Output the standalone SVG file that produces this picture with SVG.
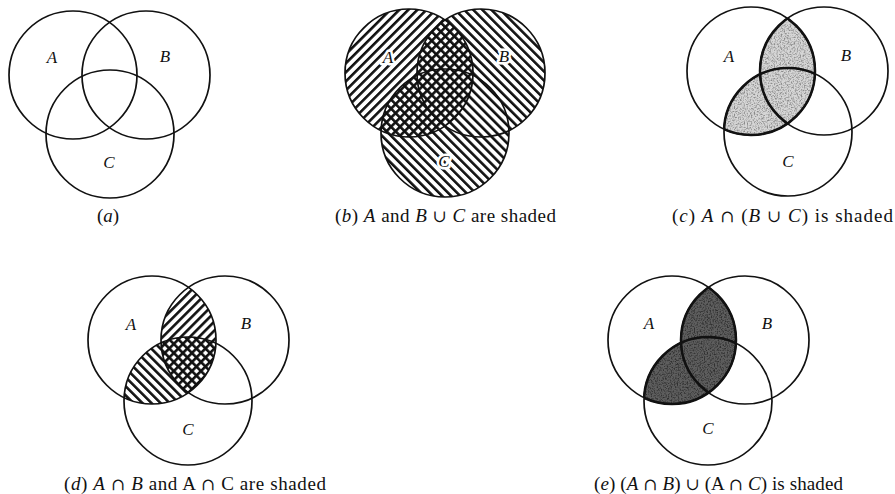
<svg xmlns="http://www.w3.org/2000/svg" width="895" height="494" viewBox="0 0 895 494">
<style>
.c{fill:none;stroke:#111;stroke-width:1.7}
.thick{fill:none;stroke:#111;stroke-width:2.5}
.lbl{font-family:"Liberation Serif",serif;font-style:italic;font-size:17px;fill:#111}
.halo{paint-order:stroke;stroke:#fff;stroke-width:5px;stroke-linejoin:round}
.cap{font-family:"Liberation Serif","DejaVu Serif",serif;font-size:19px;fill:#111}
.i{font-style:italic}
.s{font-family:"DejaVu Serif",serif;font-size:17px}
</style>
<defs>
<pattern id="hF" width="6.4" height="6.4" patternUnits="userSpaceOnUse" patternTransform="rotate(45)"><rect width="2.6" height="6.4" fill="#111"/></pattern>
<pattern id="hB" width="6.4" height="6.4" patternUnits="userSpaceOnUse" patternTransform="rotate(-45)"><rect width="2.6" height="6.4" fill="#111"/></pattern>
<filter id="grain" x="0" y="0" width="1" height="1">
<feTurbulence type="fractalNoise" baseFrequency="0.7" numOctaves="2" seed="4" result="n"/>
<feColorMatrix in="n" type="matrix" values="0 0 0 0 0  0 0 0 0 0  0 0 0 0 0  3 0 0 0 -1.3"/>
</filter>
<clipPath id="bA"><circle cx="409" cy="73" r="64"/></clipPath>
<clipPath id="bBC"><circle cx="481" cy="73" r="64"/><circle cx="445" cy="133" r="64"/></clipPath>
<clipPath id="cA"><circle cx="751" cy="71" r="64"/></clipPath>
<clipPath id="cBC"><circle cx="824" cy="71" r="64"/><circle cx="788" cy="132" r="64"/></clipPath>
<clipPath id="dA"><circle cx="152" cy="340" r="64"/></clipPath>
<clipPath id="dB"><circle cx="225" cy="340" r="64"/></clipPath>
<clipPath id="dC"><circle cx="188" cy="401" r="64"/></clipPath>
<clipPath id="eA"><circle cx="672" cy="340" r="64"/></clipPath>
<clipPath id="eBC"><circle cx="745" cy="340" r="64"/><circle cx="708" cy="401" r="64"/></clipPath>
</defs>
<rect width="895" height="494" fill="#fff"/>

<g id="diagram-a">
<circle class="c" cx="73" cy="75" r="64"/>
<circle class="c" cx="146" cy="75" r="64"/>
<circle class="c" cx="110" cy="134" r="64"/>
<text class="lbl" x="52" y="63" text-anchor="middle">A</text>
<text class="lbl" x="165" y="62" text-anchor="middle">B</text>
<text class="lbl" x="109" y="168" text-anchor="middle">C</text>
<text class="cap" x="108" y="222" text-anchor="middle">(<tspan class="i">a</tspan>)</text>
</g>

<g id="diagram-b">
<rect x="340" y="5" width="140" height="140" fill="url(#hF)" clip-path="url(#bA)"/>
<rect x="375" y="5" width="175" height="200" fill="url(#hB)" clip-path="url(#bBC)"/>
<circle class="c" cx="409" cy="73" r="64" stroke-width="2"/>
<circle class="c" cx="481" cy="73" r="64" stroke-width="2"/>
<circle class="c" cx="445" cy="133" r="64" stroke-width="2"/>
<text class="lbl halo" x="388" y="63" text-anchor="middle">A</text>
<text class="lbl halo" x="504" y="62" text-anchor="middle">B</text>
<text class="lbl halo" x="444" y="167" text-anchor="middle">C</text>
<text class="cap" x="335" y="222" textLength="221" lengthAdjust="spacing">(<tspan class="i">b</tspan>)  <tspan class="i">A</tspan> and <tspan class="i">B</tspan> <tspan class="s">∪</tspan> <tspan class="i">C</tspan> are shaded</text>
</g>

<g id="diagram-c">
<g clip-path="url(#cA)"><g clip-path="url(#cBC)">
<rect x="680" y="0" width="150" height="140" fill="#d6d6d6"/>
<rect x="680" y="0" width="150" height="140" fill="#555" opacity="0.35" filter="url(#grain)"/>
</g></g>
<circle class="c" cx="751" cy="71" r="64"/>
<circle class="c" cx="824" cy="71" r="64"/>
<circle class="c" cx="788" cy="132" r="64"/>
<circle class="thick" cx="751" cy="71" r="64" clip-path="url(#cBC)"/>
<circle class="thick" cx="824" cy="71" r="64" clip-path="url(#cA)"/>
<circle class="thick" cx="788" cy="132" r="64" clip-path="url(#cA)"/>
<text class="lbl" x="729" y="62" text-anchor="middle">A</text>
<text class="lbl" x="846" y="61" text-anchor="middle">B</text>
<text class="lbl" x="788" y="167" text-anchor="middle">C</text>
<text class="cap" x="672" y="222" textLength="221" lengthAdjust="spacing">(<tspan class="i">c</tspan>)  <tspan class="i">A</tspan> <tspan class="s">∩</tspan> (<tspan class="i">B</tspan> <tspan class="s">∪</tspan> <tspan class="i">C</tspan>) is shaded</text>
</g>

<g id="diagram-d">
<g clip-path="url(#dA)"><rect x="150" y="270" width="80" height="140" fill="url(#hF)" clip-path="url(#dB)"/></g>
<g clip-path="url(#dA)"><rect x="110" y="330" width="110" height="90" fill="url(#hB)" clip-path="url(#dC)"/></g>
<circle class="c" cx="152" cy="340" r="64"/>
<circle class="c" cx="225" cy="340" r="64"/>
<circle class="c" cx="188" cy="401" r="64"/>
<text class="lbl" x="131" y="330" text-anchor="middle">A</text>
<text class="lbl" x="246" y="329" text-anchor="middle">B</text>
<text class="lbl" x="188" y="435" text-anchor="middle">C</text>
<text class="cap" x="64" y="490" textLength="262" lengthAdjust="spacing">(<tspan class="i">d</tspan>)  <tspan class="i">A</tspan> <tspan class="s">∩</tspan> <tspan class="i">B</tspan> and A <tspan class="s">∩</tspan> C are shaded</text>
</g>

<g id="diagram-e">
<g clip-path="url(#eA)"><g clip-path="url(#eBC)">
<rect x="600" y="270" width="150" height="140" fill="#5e5e5e"/>
<rect x="600" y="270" width="150" height="140" fill="#111" opacity="0.5" filter="url(#grain)"/>
</g></g>
<circle class="c" cx="672" cy="340" r="64"/>
<circle class="c" cx="745" cy="340" r="64"/>
<circle class="c" cx="708" cy="401" r="64"/>
<circle class="thick" cx="672" cy="340" r="64" clip-path="url(#eBC)"/>
<circle class="thick" cx="745" cy="340" r="64" clip-path="url(#eA)"/>
<circle class="thick" cx="708" cy="401" r="64" clip-path="url(#eA)"/>
<text class="lbl" x="649" y="329" text-anchor="middle">A</text>
<text class="lbl" x="767" y="329" text-anchor="middle">B</text>
<text class="lbl" x="708" y="434" text-anchor="middle">C</text>
<text class="cap" x="594" y="490" textLength="249" lengthAdjust="spacing">(<tspan class="i">e</tspan>)  (<tspan class="i">A</tspan> <tspan class="s">∩</tspan> <tspan class="i">B</tspan>) <tspan class="s">∪</tspan> (A <tspan class="s">∩</tspan> <tspan class="i">C</tspan>) is shaded</text>
</g>
</svg>
